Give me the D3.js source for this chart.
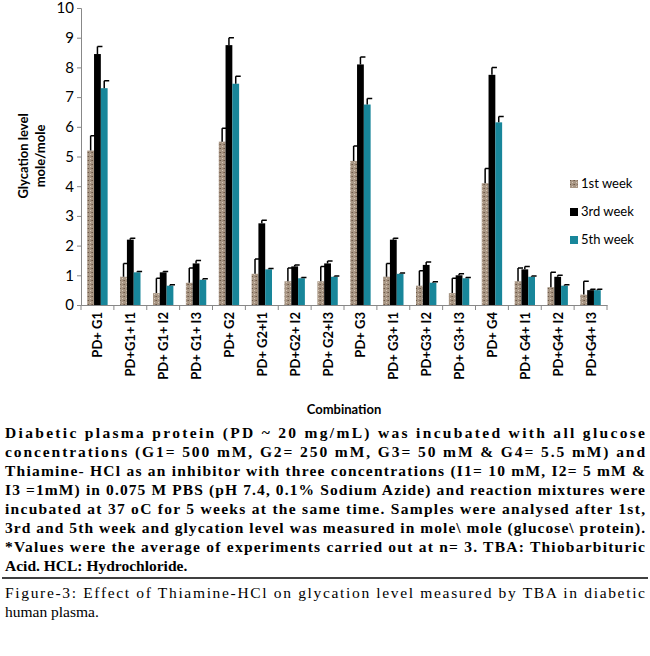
<!DOCTYPE html>
<html><head><meta charset="utf-8">
<script src="https://cdn.jsdelivr.net/npm/d3@7"></script>
<style>body{margin:0;background:#fff}</style></head>
<body><svg id="c" width="650" height="656"></svg>
<script>
const categories = ["PD+ G1","PD+G1+ I1","PD+ G1+ I2","PD+ G1+ I3","PD+ G2","PD+ G2+I1","PD+G2+ I2","PD+ G2+I3",
  "PD+ G3","PD+ G3+ I1","PD+G3+ I2","PD+ G3+ I3","PD+ G4","PD+ G4+ I1","PD+G4+ I2","PD+G4+ I3"];
const series = ["1st week","3rd week","5th week"];
const week1 = [5.2,0.95,0.4,0.75,5.5,1.05,0.8,0.8,4.85,0.95,0.65,0.4,4.1,0.8,0.6,0.35];
const week3 = [8.45,2.2,1.1,1.4,8.75,2.75,1.3,1.4,8.1,2.2,1.35,1.0,7.75,1.2,0.95,0.5];
const week5 = [7.3,1.1,0.65,0.85,7.45,1.2,0.9,0.95,6.75,1.05,0.75,0.9,6.15,0.95,0.65,0.5];
const err1 = [0.5,0.45,0.5,0.5,0.45,0.5,0.45,0.5,0.5,0.45,0.5,0.5,0.5,0.45,0.5,0.45];
const err3 = [0.25,0.05,0.03,0.1,0.25,0.1,0.05,0.08,0.25,0.05,0.1,0.05,0.25,0.1,0.05,0.03];
const err5 = [0.25,0.03,0.03,0.03,0.25,0.03,0.03,0.03,0.2,0.03,0.03,0.03,0.2,0.03,0.03,0.03];
const yTicks = [0,1,2,3,4,5,6,7,8,9,10];

const svg = d3.select("#c");
const defs = svg.append("defs");
const pat = defs.append("pattern").attr("id","speck").attr("width",4).attr("height",4).attr("patternUnits","userSpaceOnUse");
pat.append("rect").attr("width",4).attr("height",4).attr("fill","#a89684");
pat.append("rect").attr("x",0).attr("y",0).attr("width",1).attr("height",1).attr("fill","#6b5a48");
pat.append("rect").attr("x",2).attr("y",2).attr("width",1).attr("height",1).attr("fill","#d8c8b8");
pat.append("rect").attr("x",3).attr("y",0).attr("width",1).attr("height",1).attr("fill","#8a7060");
const colors = ["url(#speck)","#000","#18869a"];
const vals = [week1,week3,week5], errs = [err1,err3,err5];

const x = d3.scaleBand().domain(categories).range([81,607]);
const xs = d3.scaleBand().domain(series).range([x.bandwidth()*0.19, x.bandwidth()*0.81]);
const y = d3.scaleLinear().domain([0,10]).range([305,8]);

const ya = svg.append("g").attr("transform","translate(81,0)")
  .call(d3.axisLeft(y).tickValues(yTicks).tickSize(4).tickFormat(d3.format("d")));
ya.select(".domain").attr("stroke","#888");
ya.selectAll(".tick line").attr("stroke","#888");
ya.selectAll("text").attr("font-family","Lato, sans-serif").attr("font-size",15).attr("fill","#000");

const xa = svg.append("g").attr("transform","translate(0,305)")
  .call(d3.axisBottom(x).tickSize(0).tickFormat(""));
xa.select(".domain").attr("stroke","#888");
xa.selectAll(".sep").data(categories.concat(["end"])).enter().append("line")
  .attr("x1",(d,i)=>81+i*x.step()).attr("x2",(d,i)=>81+i*x.step()).attr("y1",0).attr("y2",5).attr("stroke","#888");

series.forEach((s,si)=>{
  const g = svg.append("g");
  g.selectAll("rect").data(vals[si]).enter().append("rect")
    .attr("x",(d,i)=>x(categories[i])+xs(s)).attr("width",xs.bandwidth())
    .attr("y",d=>y(d)).attr("height",d=>y(0)-y(d)).attr("fill",colors[si]);
  g.selectAll("path").data(vals[si]).enter().append("path")
    .attr("d",(d,i)=>{const cx=x(categories[i])+xs(s)+xs.bandwidth()/2, t=y(d+errs[si][i]);
      return `M${cx},${y(d)}V${t}M${cx},${t}H${cx+5}`;})
    .attr("stroke","#000").attr("stroke-width",1.5);
});

svg.append("g").selectAll("text").data(categories).enter().append("text")
  .attr("transform",d=>`translate(${x(d)+x.bandwidth()/2+5},312) rotate(-90)`)
  .attr("text-anchor","end").attr("font-family","Lato, sans-serif").attr("font-size",13).attr("font-weight","bold")
  .text(d=>d);

svg.append("text").attr("x",344).attr("y",414).attr("text-anchor","middle")
  .attr("font-family","Lato, sans-serif").attr("font-size",13).attr("font-weight","bold").text("Combination");
svg.append("text").attr("transform","translate(28,156) rotate(-90)").attr("text-anchor","middle")
  .attr("font-family","Lato, sans-serif").attr("font-size",13).attr("font-weight","bold")
  .selectAll("tspan").data(["Glycation level","mole/mole"]).enter().append("tspan")
  .attr("x",0).attr("dy",(d,i)=>i?17:0).text(d=>d);

const lg = svg.append("g").attr("transform","translate(570,180)");
series.forEach((s,i)=>{
  lg.append("rect").attr("x",0).attr("y",i*28).attr("width",8).attr("height",8).attr("fill",colors[i]);
  lg.append("text").attr("x",11).attr("y",i*28+8).attr("font-family","Lato, sans-serif").attr("font-size",13).text(s);
});

const cap = ["Diabetic plasma protein (PD ~ 20 mg/mL) was incubated with all glucose",
 "concentrations (G1= 500 mM, G2= 250 mM, G3= 50 mM & G4= 5.5 mM) and",
 "Thiamine- HCl as an inhibitor with three concentrations (I1= 10 mM, I2= 5 mM &",
 "I3 =1mM) in 0.075 M PBS (pH 7.4, 0.1% Sodium Azide) and reaction mixtures were",
 "incubated at 37 oC for 5 weeks at the same time. Samples were analysed after 1st,",
 "3rd and 5th week and glycation level was measured in mole\\ mole (glucose\\ protein).",
 "*Values were the average of experiments carried out at n= 3. TBA: Thiobarbituric",
 "Acid. HCL: Hydrochloride."];
svg.append("g").selectAll("text").data(cap).enter().append("text")
  .attr("x",5).attr("y",(d,i)=>438+i*19).attr("font-family","Liberation Serif, serif").attr("font-size",15.5).attr("font-weight","bold")
  .each(function(d,i){ if(i<cap.length-1) d3.select(this).attr("textLength",640).attr("lengthAdjust","spacing"); })
  .text(d=>d);
svg.append("line").attr("x1",2).attr("x2",648).attr("y1",578).attr("y2",578).attr("stroke","#000").attr("stroke-width",1.5);
const fig = ["Figure-3: Effect of Thiamine-HCl on glycation level measured by TBA in diabetic","human plasma."];
svg.append("g").selectAll("text").data(fig).enter().append("text")
  .attr("x",5).attr("y",(d,i)=>598+i*19).attr("font-family","Liberation Serif, serif").attr("font-size",15.5)
  .each(function(d,i){ if(i==0) d3.select(this).attr("textLength",640).attr("lengthAdjust","spacing"); })
  .text(d=>d);
</script></body></html>
